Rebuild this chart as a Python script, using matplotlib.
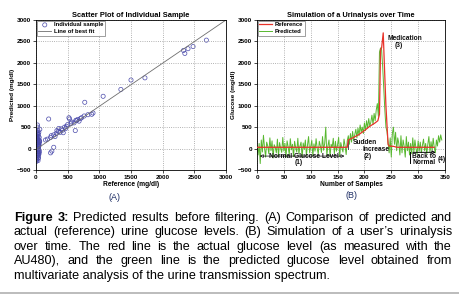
import numpy as np
import matplotlib
matplotlib.use("Agg")
import matplotlib.pyplot as plt

plt.rcParams['font.family'] = ['Liberation Sans', 'DejaVu Sans']

# ---- panel A data: reference vs predicted glucose (mg/dl)
ref_cluster = [5, 10, 15, 20, 25, 30, 35, 40, 45, 50, 8, 12, 18, 22, 28, 32, 38, 42, 48, 55,
               3, 9, 14, 19, 24, 29, 34, 39, 44, 60, 6, 11, 16, 21, 26, 31, 36, 41, 46, 52,
               4, 13, 17, 23, 27, 33, 37, 43, 47, 58, 7, 15, 25, 35, 45, 20, 30, 40, 10, 50]
pred_cluster = [-300, -250, -200, -150, -100, -50, 0, 50, 100, 150, 200, 250, 300, 350, 420, -280, -220, -170, -120, -70,
                -20, 30, 80, 130, 180, 230, 280, 330, 380, 450, -260, -210, -160, -110, -60, -10, 40, 90, 140, 190,
                240, 290, 340, 550, 500, -230, -130, -30, 70, 170, 270, 370, 20, 60, 110, 160, 210, -80, 120, 260]
ref_mid = [200, 150, 180, 230, 240, 280, 300, 320, 350, 380, 400, 420, 450, 470, 500, 520, 530, 560,
           600, 620, 640, 660, 700, 720, 760, 820, 880, 900, 250, 280, 230, 330, 360, 430, 480, 550, 630, 680]
pred_mid = [690, 200, 220, 260, 300, 320, 280, 350, 400, 380, 460, 430, 500, 470, 560, 720, 690, 620,
            600, 420, 650, 680, 700, 720, 760, 790, 800, 830, -60, 30, -100, 420, 470, 370, 520, 580, 660, 640]
ref_high = [770, 1060, 1340, 1500, 1720, 2330, 2350, 2400, 2480, 2690]
pred_high = [1080, 1220, 1380, 1600, 1650, 2290, 2220, 2330, 2380, 2530]
fit_x = [0, 3000]
fit_y = [-20, 3000]

# ---- panel B data: simulated urinalysis, one value every 2 samples
pred_series = [50, -150, 120, -350, 200, -80, 310, 20, -200, 150, 60, -120, 250, -50, 180, -220, 90, 30,
               -100, 220, -180, 140, 10, -90, 260, -60, 120, -200, 180, 40, -140, 230, -30, 100, -190, 170,
               20, -80, 240, -120, 60, 150, -210, 130, -20, 200, -160, 80, 280, -100, 40, 190, -170, 110,
               -60, 230, 10, -130, 170, 60, -90, 280, -40, 120, 500, -150, 60, 200, -180, 100, 30, 240,
               -120, 170, -60, 90, 260, -190, 140, 20, -80, 220, 60, -140, 180,
               300, 100, 350, 150, 400, 200, 320, 450, 250, 480, 300, 550, 380, 500, 350, 600, 420, 650,
               480, 700, 520, 620, 780, 560, 820, 650, 900, 1050, 750, 2250, 2350, 2300, 1900, 1400, 900, 500,
               400, 150, -100, 250, -200, 350, 500, 100, 380, -50, 250, 120, -150, 300, -100, 200, 50, -200,
               280, -50, 150, -150, 120, -120, 250, -80, 200, 0, -130, 180, -60, 150, -100, 80, 220, -50,
               120, -120, 100, 280, -80, 160, -40, 240, 20, -100, 200, 60, 300, 150, 320, 200]
ref_samples = [0, 168, 170, 180, 190, 200, 210, 220, 225, 228, 230, 232, 235, 237, 240, 244, 246, 255, 260, 330]
ref_series = [30, 30, 200, 260, 330, 420, 520, 600, 650, 800, 2300, 2350, 2700, 2000, 1000, 100, 60, 50, 30, 30]

caption = ["Figure 3: Predicted results before filtering. (A) Comparison of predicted and",
           "actual (reference) urine glucose levels. (B) Simulation of a user\u2019s urinalysis",
           "over time. The red line is the actual glucose level (as measured with the",
           "AU480), and the green line is the predicted glucose level obtained from",
           "multivariate analysis of the urine transmission spectrum."]

W, H = 459, 294
fig = plt.figure(figsize=(W / 100, H / 100), dpi=100)


def style_axes(ax):
    ax.grid(True, linestyle=':', color='#9a9a9a', linewidth=0.6)
    ax.tick_params(labelsize=4.6, length=2, width=0.5, pad=1.5)
    for lab in ax.get_xticklabels() + ax.get_yticklabels():
        lab.set_fontweight('bold')
    for s in ax.spines.values():
        s.set_linewidth(0.6)


def style_legend(leg):
    leg.get_frame().set_linewidth(0.5)
    for t in leg.get_texts():
        t.set_fontweight('bold')


leg_kw = dict(loc='upper left', fontsize=4.2, frameon=True, fancybox=False, edgecolor='#555555',
              borderpad=0.3, handlelength=2.2, handletextpad=0.5, labelspacing=0.25, borderaxespad=0.1)

# panel A
ax1 = fig.add_axes([36 / W, 1 - 170 / H, 190 / W, 150 / H])
ax1.scatter(ref_cluster + ref_mid + ref_high, pred_cluster + pred_mid + pred_high,
            s=9, facecolors='none', edgecolors='#4b4bab', linewidths=0.5, label='Individual sample')
ax1.plot(fit_x, fit_y, color='#6e6e6e', linewidth=0.6, label='Line of best fit')
ax1.set_xlim(0, 3000)
ax1.set_ylim(-500, 3000)
ax1.set_xticks(np.arange(0, 3001, 500))
ax1.set_yticks(np.arange(-500, 3001, 500))
style_axes(ax1)
ax1.set_title('Scatter Plot of Individual Sample', fontsize=5.4, fontweight='bold', pad=2)
ax1.set_xlabel('Reference (mg/dl)', fontsize=4.8, fontweight='bold', labelpad=1)
ax1.set_ylabel('Predicted (mg/dl)', fontsize=4.6, fontweight='bold', labelpad=1)
style_legend(ax1.legend(**leg_kw))

# panel B
ax2 = fig.add_axes([257 / W, 1 - 170 / H, 188 / W, 150 / H])
samples = np.arange(len(pred_series)) * 2
ax2.plot(ref_samples, ref_series, color='#e8332a', linewidth=0.9, label='Reference', zorder=3)
ax2.plot(samples, pred_series, color='#58b830', linewidth=0.7, label='Predicted', zorder=2)
ax2.set_xlim(0, 350)
ax2.set_ylim(-500, 3000)
ax2.set_xticks(np.arange(0, 351, 50))
ax2.set_yticks(np.arange(-500, 3001, 500))
style_axes(ax2)
ax2.set_title('Simulation of a Urinalysis over Time', fontsize=5.3, fontweight='bold', pad=2)
ax2.set_xlabel('Number of Samples', fontsize=4.8, fontweight='bold', labelpad=1)
ax2.set_ylabel('Glucose (mg/dl)', fontsize=4.6, fontweight='bold', labelpad=1)
style_legend(ax2.legend(**leg_kw))

# annotations in panel B
ann = dict(fontsize=4.8, fontweight='bold', color='#111111')
ax2.annotate('', xy=(0, -175), xytext=(168, -175),
             arrowprops=dict(arrowstyle='<|-|>', color='black', lw=0.5, fc='white', mutation_scale=5))
ax2.text(88, -175, 'Normal Glucose Level', ha='center', va='center', **ann)
ax2.text(78, -320, '(1)', ha='center', va='center', **ann)
ax2.plot([170, 170], [0, 200], color='#333333', linewidth=0.6)
ax2.text(178, 150, 'Sudden', ha='left', va='center', **ann)
ax2.text(221, -15, 'Increase', ha='center', va='center', **ann)
ax2.text(206, -180, '(2)', ha='center', va='center', **ann)
ax2.text(275, 2560, 'Medication', ha='center', va='center', **ann)
ax2.text(263, 2410, '(3)', ha='center', va='center', **ann)
ax2.annotate('', xy=(338, -88), xytext=(285, -88),
             arrowprops=dict(arrowstyle='-|>', color='black', lw=0.7, fc='white', mutation_scale=5))
ax2.plot([285, 285], [-88, -330], color='black', linewidth=0.7)
ax2.text(310, -190, 'Back to', ha='center', va='center', **ann)
ax2.text(311, -330, 'Normal', ha='center', va='center', **ann)
ax2.text(344, -250, '(4)', ha='center', va='center', **ann)

fig.text(115 / W, 1 - 197 / H, '(A)', fontsize=6.5, color='#1f2f66', ha='center', va='center')
fig.text(352 / W, 1 - 195 / H, '(B)', fontsize=6.5, color='#1f2f66', ha='center', va='center')

# justified caption
r = fig.canvas.get_renderer()
x0, x1 = 14, 452
fs = 9.1
for i, line in enumerate(caption):
    y = 1 - (218 + i * 14.4) / H
    if i == len(caption) - 1:
        fig.text(x0 / W, y, line, fontsize=fs, va='center', ha='left')
        continue
    words = line.split(' ')
    texts = []
    for j, w in enumerate(words):
        bold = (i == 0 and j < 2)
        texts.append(fig.text(0, y, w, fontsize=fs, va='center', ha='left',
                              fontweight='bold' if bold else 'normal'))
    widths = [t.get_window_extent(renderer=r).width for t in texts]
    gap = (x1 - x0 - sum(widths)) / (len(words) - 1)
    xpos = x0
    for t, wd in zip(texts, widths):
        t.set_x(xpos / W)
        xpos += wd + gap

fig.add_artist(plt.Line2D([0, 1], [1 - 292.5 / H, 1 - 292.5 / H], color='#b0b0b0', linewidth=1.2))

fig.savefig('out.png', dpi=100)
